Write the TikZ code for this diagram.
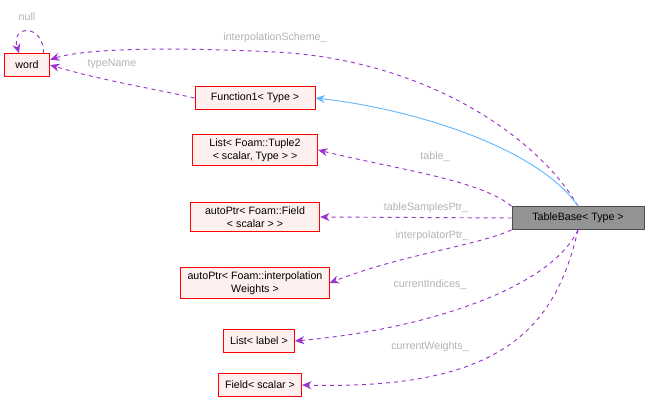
\documentclass[tikz,border=0pt]{standalone}
\usepackage{fontspec}
\setmainfont{Liberation Sans}
\usetikzlibrary{arrows.meta}

\definecolor{boxred}{HTML}{FF0000}
\definecolor{boxfill}{HTML}{FFF0F0}
\definecolor{dep}{HTML}{9A32CD}
\definecolor{inh}{HTML}{63B8FF}

\begin{document}
\begin{tikzpicture}[x=0.75pt,y=-0.75pt,
		cls/.style={draw=boxred,fill=boxfill,font=\fontsize{8}{9.5}\selectfont,align=center,inner xsep=5pt,inner ysep=3pt,minimum height=17pt,line width=0.7pt},
		use/.style={dep,dashed,line width=0.7pt,-{Stealth[length=7pt,width=6pt]}},
		isa/.style={inh,line width=0.7pt,-{Stealth[length=7pt,width=6pt]}},
		lbl/.style={text=gray!60,font=\fontsize{8}{9.5}\selectfont}]
	\useasboundingbox (0,0) rectangle (651,410);
	\node[cls,minimum width=34pt] (word) at (27,65) {word};
	\node[cls,minimum width=90pt] (func) at (255,98) {Function1\textless{} Type \textgreater{}};
	\node[cls,minimum width=94pt] (tuple) at (255,150) {List\textless{} Foam::Tuple2\\\textless{} scalar, Type \textgreater{} \textgreater{}};
	\node[cls,minimum width=97pt] (field) at (255,217) {autoPtr\textless{} Foam::Field\\\textless{} scalar \textgreater{} \textgreater{}};
	\node[cls] (weights) at (255,283) {autoPtr\textless{} Foam::interpolation\\Weights \textgreater{}};
	\node[cls] (label) at (259,341) {List\textless{} label \textgreater{}};
	\node[cls] (scalar) at (260,385) {Field\textless{} scalar \textgreater{}};
	\node[cls,draw=black!70,fill=gray!85,minimum width=99pt] (table) at (578,218) {TableBase\textless{} Type \textgreater{}};
	% self reference
	\draw[use] ([xshift=-5pt]word.north east) .. controls (44,24) and (10,24) .. ([xshift=-6pt]word.north);
	\node[lbl] (nulllbl) at (27,17) {null};
	% uses
	\draw[use] (func.west) .. controls (150,88) and (100,80) .. (word.east);
	\node[lbl] (typelbl) at (112,64) {typeName};
	\draw[use] (table.north) .. controls (540,140) and (430,60) .. (275,52) .. controls (150,46) and (80,50) .. ([yshift=4pt]word.east);
	\node[lbl] (schemelbl) at (275,38) {interpolationScheme\_};
	\draw[isa] (table.north) .. controls (540,150) and (420,110) .. (func.east);
	\draw[use] (table.north west) .. controls (480,180) and (400,170) .. (tuple.east);
	\node[lbl] (tablelbl) at (435,157) {table\_};
	\draw[use] (table.west) -- (field.east);
	\node[lbl] (sampleslbl) at (426,208) {tableSamplesPtr\_};
	\draw[use] (table.south west) .. controls (480,245) and (400,255) .. (weights.east);
	\node[lbl] (interplbl) at (432,236) {interpolatorPtr\_};
	\draw[use] (table.south) .. controls (550,290) and (420,330) .. (label.east);
	\node[lbl] (indiceslbl) at (430,285) {currentIndices\_};
	\draw[use] (table.south) .. controls (555,330) and (500,390) .. (scalar.east);
	\node[lbl] (weightslbl) at (430,347) {currentWeights\_};
\end{tikzpicture}
\end{document}
